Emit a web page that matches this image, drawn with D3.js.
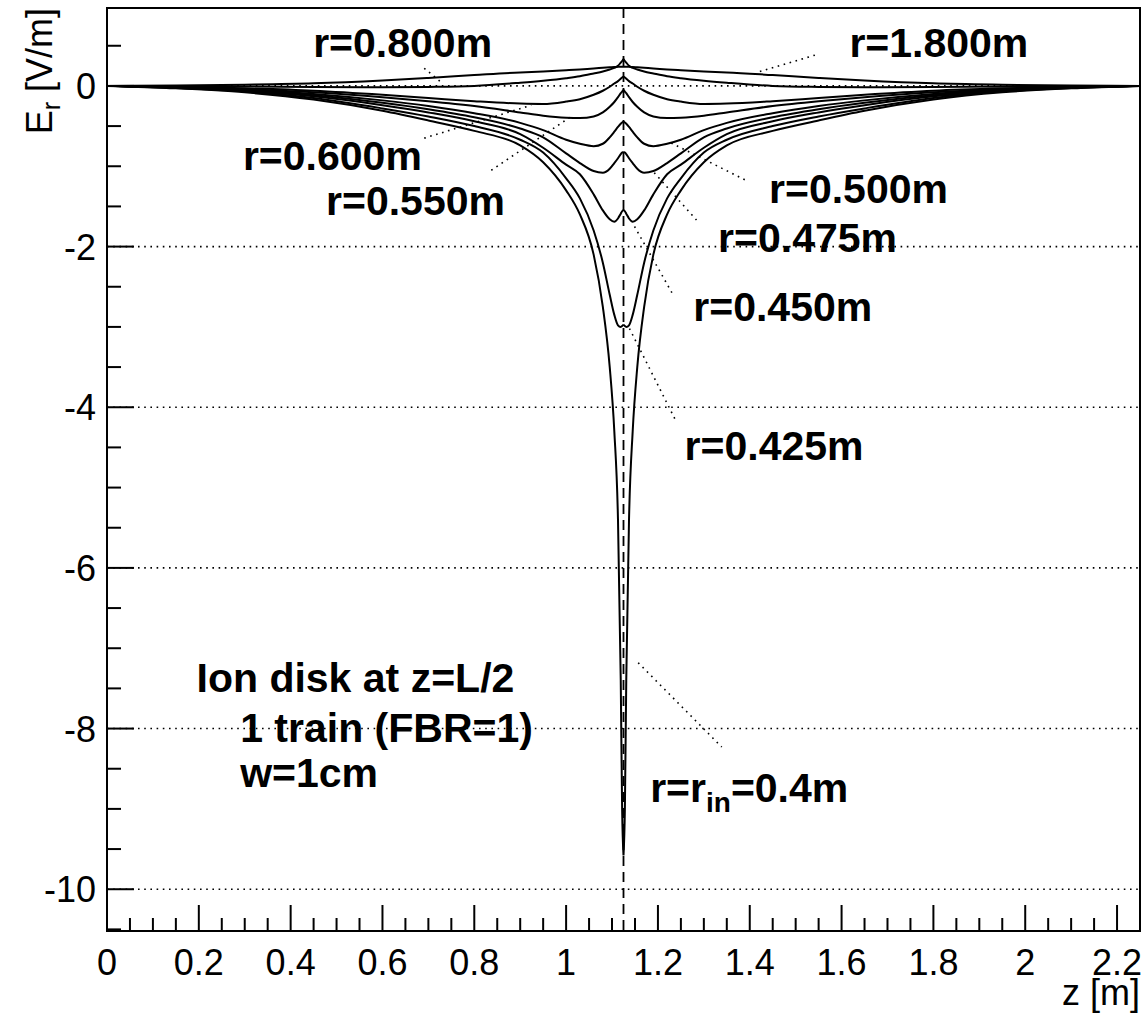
<!DOCTYPE html>
<html>
<head>
<meta charset="utf-8">
<script src="https://cdn.jsdelivr.net/npm/d3@7"></script>
<style>
  body { margin: 0; background: #fff; }
  svg { display: block; }
  text { font-family: "Liberation Sans", Arial, Helvetica, sans-serif; fill: #000; }
</style>
</head>
<body>
<svg id="chart" width="1143" height="1016"></svg>
<script>
// z positions [m], dense near the ion disk at z = L/2
var zGrid = [0, 0.15, 0.3, 0.45, 0.6, 0.7, 0.8, 0.9, 0.95, 1.0, 1.03, 1.06, 1.08, 1.095, 1.105, 1.113, 1.119, 1.122,
  1.125,
  1.128, 1.131, 1.137, 1.145, 1.155, 1.17, 1.19, 1.22, 1.25, 1.3, 1.35, 1.45, 1.55, 1.65, 1.8, 1.95, 2.1, 2.25];

// E_r [V/m], one list per radius
var er1800 = [0, 0.005, 0.015, 0.032, 0.068, 0.1, 0.135, 0.168, 0.18, 0.195, 0.205, 0.218, 0.226, 0.232, 0.236, 0.238, 0.24, 0.24,
  0.24,
  0.24, 0.24, 0.238, 0.236, 0.232, 0.226, 0.218, 0.205, 0.195, 0.18, 0.168, 0.135, 0.1, 0.068, 0.032, 0.015, 0.005, 0];
var er0800 = [0, -0.003, -0.008, -0.012, -0.016, -0.012, 0.0, 0.04, 0.065, 0.096, 0.12, 0.155, 0.18, 0.205, 0.225, 0.25, 0.29, 0.31,
  0.336,
  0.31, 0.29, 0.25, 0.225, 0.205, 0.18, 0.155, 0.12, 0.096, 0.065, 0.04, 0.0, -0.012, -0.016, -0.012, -0.008, -0.003, 0];
var er0600 = [0, -0.01, -0.03, -0.06, -0.11, -0.15, -0.19, -0.22, -0.225, -0.195, -0.165, -0.11, -0.06, -0.01, 0.03, 0.06, 0.09, 0.105,
  0.116,
  0.105, 0.09, 0.06, 0.03, -0.01, -0.06, -0.11, -0.165, -0.195, -0.225, -0.22, -0.19, -0.15, -0.11, -0.06, -0.03, -0.01, 0];
var er0550 = [0, -0.015, -0.04, -0.08, -0.14, -0.19, -0.25, -0.33, -0.37, -0.395, -0.4, -0.38, -0.33, -0.26, -0.2, -0.14, -0.09, -0.07,
  -0.05,
  -0.07, -0.09, -0.14, -0.2, -0.26, -0.33, -0.38, -0.4, -0.395, -0.37, -0.33, -0.25, -0.19, -0.14, -0.08, -0.04, -0.015, 0];
var er0500 = [0, -0.018, -0.048, -0.1, -0.18, -0.25, -0.34, -0.46, -0.55, -0.67, -0.72, -0.75, -0.72, -0.64, -0.57, -0.51, -0.47, -0.455,
  -0.445,
  -0.455, -0.47, -0.51, -0.57, -0.64, -0.72, -0.75, -0.72, -0.67, -0.55, -0.46, -0.34, -0.25, -0.18, -0.1, -0.048, -0.018, 0];
var er0475 = [0, -0.02, -0.055, -0.115, -0.21, -0.29, -0.39, -0.53, -0.64, -0.84, -0.96, -1.06, -1.08, -1.03, -0.96, -0.9, -0.85, -0.83,
  -0.82,
  -0.83, -0.85, -0.9, -0.96, -1.03, -1.08, -1.06, -0.96, -0.84, -0.64, -0.53, -0.39, -0.29, -0.21, -0.115, -0.055, -0.02, 0];
var er0450 = [0, -0.023, -0.062, -0.13, -0.24, -0.33, -0.44, -0.6, -0.77, -0.98, -1.1, -1.35, -1.55, -1.66, -1.69, -1.65, -1.59, -1.56,
  -1.545,
  -1.56, -1.59, -1.65, -1.69, -1.66, -1.55, -1.35, -1.1, -0.98, -0.77, -0.6, -0.44, -0.33, -0.24, -0.13, -0.062, -0.023, 0];
var er0425 = [0, -0.027, -0.07, -0.15, -0.28, -0.38, -0.5, -0.67, -0.83, -1.15, -1.4, -1.8, -2.2, -2.6, -2.85, -2.98, -3.0, -2.99,
  -2.97,
  -2.99, -3.0, -2.98, -2.85, -2.6, -2.2, -1.8, -1.4, -1.15, -0.83, -0.67, -0.5, -0.38, -0.28, -0.15, -0.07, -0.027, 0];
var er0400 = [0, -0.03, -0.08, -0.17, -0.31, -0.43, -0.56, -0.74, -0.95, -1.3, -1.6, -2.1, -2.75, -3.5, -4.3, -5.4, -7.4, -9.0,
  -9.58,
  -9.0, -7.4, -5.4, -4.3, -3.5, -2.75, -2.1, -1.6, -1.3, -0.95, -0.74, -0.56, -0.43, -0.31, -0.17, -0.08, -0.03, 0];

var curves = [er1800, er0800, er0600, er0550, er0500, er0475, er0450, er0425, er0400];

var xMajor = [0, 0.2, 0.4, 0.6, 0.8, 1, 1.2, 1.4, 1.6, 1.8, 2, 2.2];
var xLabels = ['0', '0.2', '0.4', '0.6', '0.8', '1', '1.2', '1.4', '1.6', '1.8', '2', '2.2'];
var yMajor = [0, -2, -4, -6, -8, -10];
var yLabels = ['0', '-2', '-4', '-6', '-8', '-10'];
var diskZ = 1.125;

// curve labels: text, position in data units, pointer line in data units
var labelText = ['r=0.800m', 'r=1.800m', 'r=0.600m', 'r=0.550m', 'r=0.500m', 'r=0.475m', 'r=0.450m', 'r=0.425m'];
var labelPos = [[0.449, 0.365], [1.617, 0.365], [0.296, -1.046], [0.477, -1.606], [1.442, -1.461], [1.331, -2.067], [1.277, -2.923], [1.258, -4.658]];
var pointers = [[[0.691, 0.22], [0.731, 0.03]], [[1.422, 0.18], [1.546, 0.39]], [[0.691, -0.65], [0.924, -0.24]],
  [[0.837, -1.05], [1.011, -0.38]], [[1.229, -0.71], [1.397, -1.19]], [[1.192, -1.08], [1.284, -1.67]],
  [[1.149, -1.75], [1.233, -2.6]], [[1.138, -3.02], [1.240, -4.18]], [[1.157, -7.18], [1.339, -8.23]]];
var infoLines = ['Ion disk at z=L/2', '1 train (FBR=1)', 'w=1cm'];
var infoPos = [[0.195, -7.543], [0.29, -8.166], [0.29, -8.726]];

var svg = d3.select('#chart');
var padL = 107, padR = 1140, padT = 8, padB = 931;

var x = d3.scaleLinear().domain([0, 2.25]).range([padL, padR]);
var y = d3.scaleLinear().domain([-10.52, 0.97]).range([padB, padT]);

// dotted horizontal grid
svg.append('g').selectAll('line').data(yMajor).enter().append('line')
  .attr('x1', padL).attr('x2', padR)
  .attr('y1', function(d) { return y(d); }).attr('y2', function(d) { return y(d); })
  .attr('stroke', '#000').attr('stroke-width', 1.6).attr('stroke-dasharray', '1.6,4.6');

// vertical dashed line at the disk
svg.append('line')
  .attr('x1', x(diskZ)).attr('x2', x(diskZ)).attr('y1', padT).attr('y2', padB)
  .attr('stroke', '#000').attr('stroke-width', 1.8).attr('stroke-dasharray', '10,6');

// curves: drawn as two halves so the cusp at the disk stays sharp
var line = d3.line()
  .x(function(d) { return x(d[0]); })
  .y(function(d) { return y(d[1]); })
  .curve(d3.curveMonotoneX);
var mid = zGrid.indexOf(diskZ);

svg.append('g').selectAll('path').data(curves).enter().append('path')
  .attr('d', function(vals) {
    var pts = zGrid.map(function(z, i) { return [z, vals[i]]; });
    return line(pts.slice(0, mid + 1)) + line(pts.slice(mid));
  })
  .attr('fill', 'none').attr('stroke', '#000').attr('stroke-width', 2)
  .attr('stroke-linejoin', 'round');

// pointer lines
svg.append('g').selectAll('line').data(pointers).enter().append('line')
  .attr('x1', function(d) { return x(d[0][0]); }).attr('y1', function(d) { return y(d[0][1]); })
  .attr('x2', function(d) { return x(d[1][0]); }).attr('y2', function(d) { return y(d[1][1]); })
  .attr('stroke', '#000').attr('stroke-width', 1.6).attr('stroke-dasharray', '1.6,4.6');

// frame
svg.append('rect')
  .attr('x', padL).attr('y', padT).attr('width', padR - padL).attr('height', padB - padT)
  .attr('fill', 'none').attr('stroke', '#000').attr('stroke-width', 2);

// ticks
var xMinor = d3.range(0, 2.2501, 0.05);
var yMinor = d3.range(-10.5, 0.9, 0.5);
var ticks = svg.append('g').attr('stroke', '#000').attr('stroke-width', 2);
ticks.selectAll('.xt').data(xMinor).enter().append('line')
  .attr('x1', function(d) { return x(d); }).attr('x2', function(d) { return x(d); })
  .attr('y1', padB)
  .attr('y2', function(d) { return Math.abs(d * 5 - Math.round(d * 5)) < 1e-6 ? padB - 26 : padB - 13; });
ticks.selectAll('.yt').data(yMinor).enter().append('line')
  .attr('y1', function(d) { return y(d); }).attr('y2', function(d) { return y(d); })
  .attr('x1', padL)
  .attr('x2', function(d) { return Math.abs(d / 2 - Math.round(d / 2)) < 1e-6 ? padL + 27 : padL + 14; });

// tick labels
svg.append('g').selectAll('text').data(xMajor).enter().append('text')
  .attr('x', function(d) { return x(d); }).attr('y', 975)
  .attr('text-anchor', 'middle').attr('font-size', 36)
  .text(function(d, i) { return xLabels[i]; });
svg.append('g').selectAll('text').data(yMajor).enter().append('text')
  .attr('x', 96).attr('y', function(d) { return y(d) + 13; })
  .attr('text-anchor', 'end').attr('font-size', 36)
  .text(function(d, i) { return yLabels[i]; });

// axis titles
svg.append('text').attr('x', padR).attr('y', 1005).attr('text-anchor', 'end').attr('font-size', 36).text('z [m]');
var yt = svg.append('text').attr('transform', 'translate(52,8) rotate(-90)')
  .attr('text-anchor', 'end').attr('font-size', 36);
yt.append('tspan').text('E');
yt.append('tspan').attr('font-size', 25).attr('dy', 8).text('r');
yt.append('tspan').attr('dy', -8).text(' [V/m]');

// curve labels
svg.append('g').selectAll('text').data(labelText).enter().append('text')
  .attr('x', function(d, i) { return x(labelPos[i][0]); })
  .attr('y', function(d, i) { return y(labelPos[i][1]); })
  .attr('font-size', 41).attr('font-weight', 'bold')
  .text(function(d) { return d; });

var rin = svg.append('text').attr('x', x(1.183)).attr('y', y(-8.913))
  .attr('font-size', 41).attr('font-weight', 'bold');
rin.append('tspan').text('r=r');
rin.append('tspan').attr('font-size', 28).attr('dy', 10).text('in');
rin.append('tspan').attr('dy', -10).text('=0.4m');

svg.append('g').selectAll('text').data(infoLines).enter().append('text')
  .attr('x', function(d, i) { return x(infoPos[i][0]); })
  .attr('y', function(d, i) { return y(infoPos[i][1]); })
  .attr('font-size', 41).attr('font-weight', 'bold')
  .text(function(d) { return d; });
</script>
</body>
</html>
